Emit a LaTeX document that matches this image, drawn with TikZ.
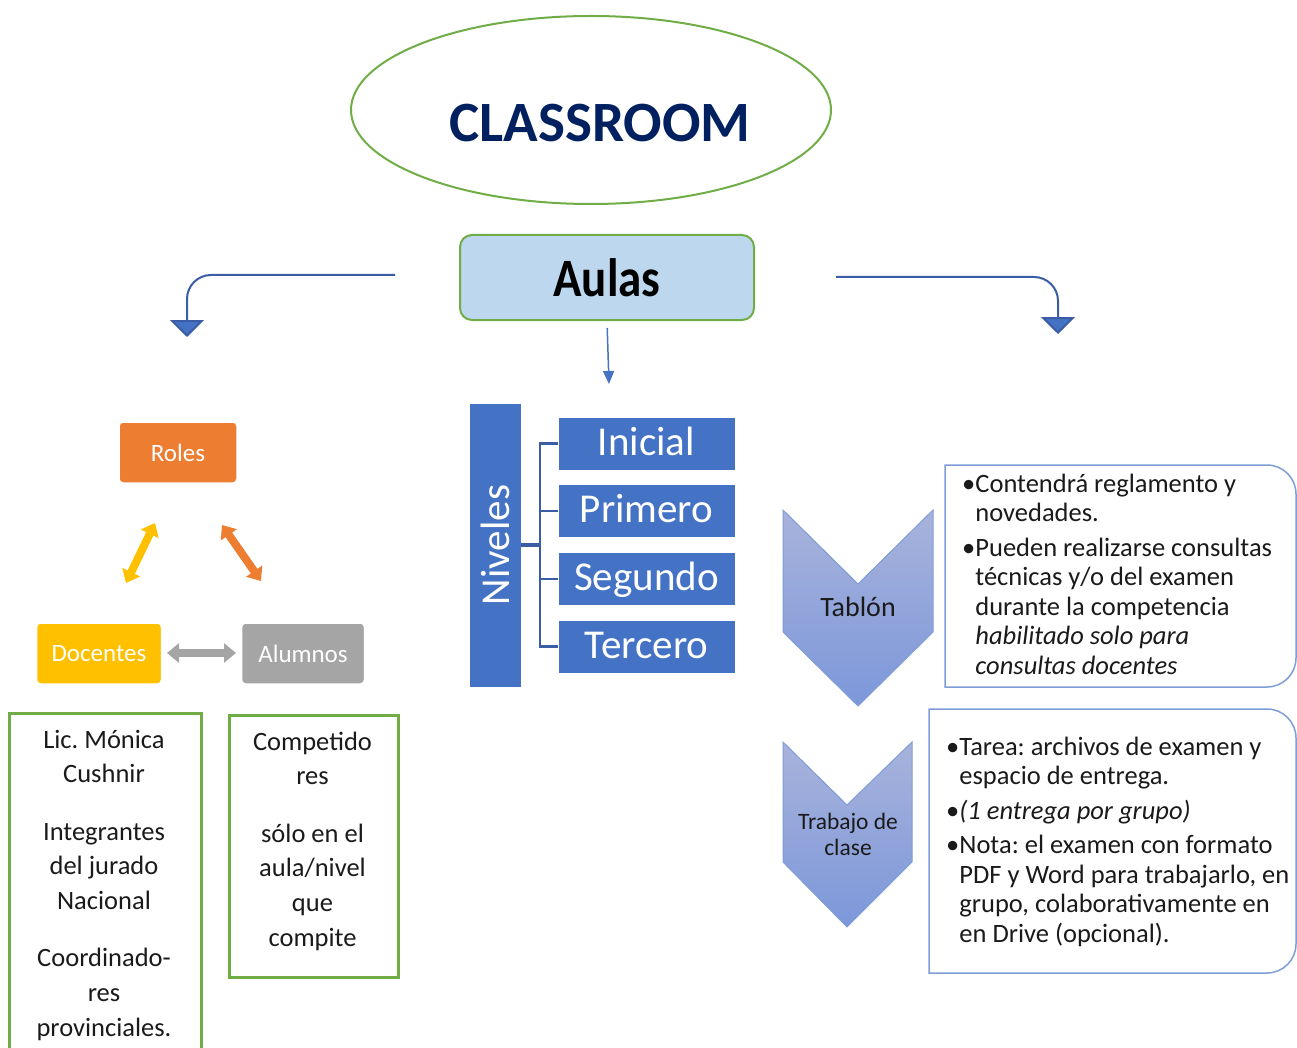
\documentclass[tikz,border=0pt]{standalone}
\usepackage{fontspec}
\setmainfont{Carlito}
\usetikzlibrary{arrows.meta,shapes.geometric,calc}
\definecolor{grn}{HTML}{70AD47}
\definecolor{navy}{HTML}{002060}
\definecolor{aulafill}{HTML}{BDD7EE}
\definecolor{darkblue}{HTML}{3A5DA6}
\definecolor{midblue}{HTML}{4472C4}
\definecolor{orng}{HTML}{ED7D31}
\definecolor{gold}{HTML}{FFC000}
\definecolor{gry}{HTML}{A5A5A5}
\definecolor{chevtop}{HTML}{A8B3DB}
\definecolor{chevbot}{HTML}{7C97DA}
\definecolor{boxline}{HTML}{7F9DD6}
\definecolor{txt}{HTML}{1A1A1A}
\frenchspacing
\begin{document}
\begin{tikzpicture}[x=1pt,y=-1pt,
  bluearrow/.style={draw=darkblue, line width=2pt, -{Triangle[width=34pt,length=17pt,fill=midblue]}},
  thinarrow/.style={draw=midblue, line width=1.5pt, -{Triangle[width=11pt,length=13pt]}},
  role/.style={rounded corners=4pt, draw=white, line width=1.5pt, text=white,
    font=\fontsize{25}{30}\selectfont, minimum height=61pt, inner sep=0},
  dbl/.style={line width=8pt, {Triangle[width=19pt,length=12pt]}-{Triangle[width=19pt,length=12pt]}},
  lvl/.style={fill=midblue, draw=white, line width=1pt, text=white,
    font=\fontsize{41}{45}\selectfont, minimum width=177pt, minimum height=53pt,
    inner sep=0, text height=29pt, text depth=6pt},
  brk/.style={draw=darkblue, line width=2.2pt},
  chev/.style={top color=chevtop, bottom color=chevbot, draw=boxline, line width=1pt},
  tbox/.style={draw=boxline, line width=1.5pt, fill=white},
  tx/.style={anchor=north west, align=left, inner sep=0, text=txt,
    font=\fontsize{26.5}{29.5}\selectfont},
  gbox/.style={draw=grn, line width=2.5pt, inner sep=0, anchor=north west},
  gtx/.style={anchor=north, align=center, inner sep=0, text=txt,
    font=\fontsize{26.5}{34.7}\selectfont}
]
\useasboundingbox (0,0) rectangle (1297,1048);

% title
\node[draw=grn, line width=2pt, ellipse, minimum width=480pt, minimum height=188pt, inner sep=0] (title) at (591,110) {};
\node[text=navy, font=\fontsize{57}{60}\selectfont\bfseries] (titletext) at (600,123) {CLASSROOM};

% Aulas
\node[draw=grn, line width=2pt, fill=aulafill, rounded corners=12pt,
  minimum width=294pt, minimum height=85pt, inner sep=0,
  font=\fontsize{47}{50}\selectfont\bfseries] (aulas) at (607,277.5) {\scalebox{1}[1.15]{Aulas}};

% arrows from Aulas
\coordinate (la) at (395,275);
\coordinate (lb) at (187,337);
\coordinate (ra) at (836,277);
\coordinate (rb) at (1058,334);
\coordinate (mb) at (609,384);
\draw[bluearrow, rounded corners=24pt] (la) -- (187,275) -- (lb);
\draw[bluearrow, rounded corners=24pt] (ra) -- (1058,277) -- (rb);
\draw[thinarrow, shorten <=7pt] (aulas.south) -- (mb);

% roles
\node[role, fill=orng, minimum width=118pt] (roles) at (178,452.5) {Roles};
\node[role, fill=gold, minimum width=125pt] (doc) at (99,653.5) {Docentes};
\node[role, fill=gry, minimum width=123pt] (alu) at (303,653.5) {Alumnos};
\coordinate (y1) at (126,583); \coordinate (y2) at (155,523);
\coordinate (o1) at (222,525); \coordinate (o2) at (261,581);
\coordinate (g1) at (167,653); \coordinate (g2) at (236,653);
\draw[dbl, draw=gold, fill=gold] (y1) -- (y2);
\draw[dbl, draw=orng, fill=orng] (o1) -- (o2);
\draw[dbl, draw=gry, fill=gry] (g1) -- (g2);

% Niveles
\node[fill=midblue, minimum width=51pt, minimum height=283pt, inner sep=0] (niv) at (495.5,545) {};
\node[rotate=90, text=white, font=\fontsize{41}{45}\selectfont, inner sep=0] (nivtxt) at (niv.center) {Niveles};
\node[lvl] (ini) at (646.5,443.5) {Inicial};
\node[lvl] (pri) at (646.5,511) {Primero};
\node[lvl] (seg) at (646.5,579) {Segundo};
\node[lvl] (ter) at (646.5,646.5) {Tercero};
\coordinate (hub) at (540,545);
\draw[brk, line width=3.2pt] (niv.east) -- (hub);
\draw[brk] (ini.west) -| (hub);
\draw[brk] (pri.west) -| (hub);
\draw[brk] (seg.west) -| (hub);
\draw[brk] (ter.west) -| (hub);

% Tablon
\path[chev] (783,510) -- (858,584) -- (933,510) -- (933,632) -- (858,706) -- (783,632) -- cycle;
\node[font=\fontsize{28}{30}\selectfont, text=txt] (tab) at (858,607) {Tablón};
\draw[tbox] (945,465) [rounded corners=29pt] -- (1296,465) -- (1296,687) [sharp corners] -- (945,687) -- cycle;
\node[tx] (t1) at (962,471.4) {\strut•Contendrá reglamento y\\
\strut\phantom{•}novedades.\\[5pt]
\strut•Pueden realizarse consultas\\
\strut\phantom{•}técnicas y/o del examen\\
\strut\phantom{•}durante la competencia\\
\strut\phantom{•}\textit{habilitado solo para}\\
\strut\phantom{•}\textit{consultas docentes}};

% Trabajo de clase
\path[chev] (783,742) -- (847,805) -- (912,742) -- (912,862) -- (847,927) -- (783,862) -- cycle;
\node[align=center, font=\fontsize{23.5}{26}\selectfont, text=txt] (tra) at (848,834) {Trabajo de\\clase};
\draw[tbox] (929,709) [rounded corners=29pt] -- (1296,709) -- (1296,973) [sharp corners] -- (929,973) -- cycle;
\node[tx] (t2) at (946,734.4) {\strut•Tarea: archivos de examen y\\
\strut\phantom{•}espacio de entrega.\\[5pt]
\strut•\textit{(1 entrega por grupo)}\\[5pt]
\strut•Nota: el examen con formato\\
\strut\phantom{•}PDF y Word para trabajarlo, en\\
\strut\phantom{•}grupo, colaborativamente en\\
\strut\phantom{•}en Drive (opcional).};

% green boxes
\node[gbox, minimum width=192pt, minimum height=352pt] (gA) at (8,712) {};
\node[gbox, minimum width=169pt, minimum height=262pt] (gB) at (228,714) {};
\node[gtx] (gAt) at (104,723.7) {\strut Lic. Mónica\\
\strut Cushnir\\[22.6pt]
\strut Integrantes\\
\strut del jurado\\
\strut Nacional\\[22.6pt]
\strut Coordinado-\\
\strut res\\
\strut provinciales.};
\node[gtx] (gBt) at (312.5,725.7) {\strut Competido\\
\strut res\\[22.6pt]
\strut sólo en el\\
\strut aula/nivel\\
\strut que\\
\strut compite};
\end{tikzpicture}
\end{document}
